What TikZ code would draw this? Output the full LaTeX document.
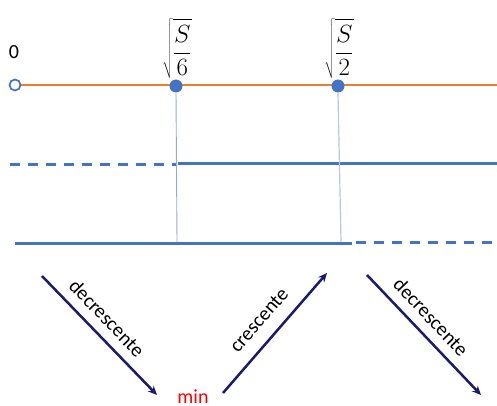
\documentclass[tikz,border=0pt]{standalone}
\usepackage{fontspec}
\setmainfont{Carlito}
\usetikzlibrary{arrows.meta}
\definecolor{axisorange}{HTML}{ED7D31}
\definecolor{signblue}{HTML}{4472C4}
\definecolor{guideblue}{HTML}{8FAADC}
\definecolor{guidelight}{HTML}{B4C7E7}
\definecolor{trendnavy}{HTML}{1A1A73}
\tikzset{
  axisline/.style={draw=axisorange, line width=2.8pt},
  signline/.style={draw=signblue, line width=3pt},
  signdash/.style={signline, dash pattern=on 10pt off 8pt},
  guide/.style={draw=guideblue, line width=0.9pt},
  bigdot/.style={circle, fill=signblue, inner sep=0pt, minimum size=13pt},
  opendot/.style={circle, draw=signblue, fill=white, line width=1.7pt, inner sep=0pt, minimum size=11pt},
  trend/.style={draw=trendnavy, line width=2.5pt, -{Stealth[length=9pt,width=8pt]}},
  trendlabel/.style={font=\fontsize{20}{24}\selectfont, inner sep=0pt},
  pointlabel/.style={font=\fontsize{25}{29}\selectfont, inner sep=0pt},
}
\begin{document}
\begin{tikzpicture}[x=1pt, y=-1pt]
\useasboundingbox (0,0) rectangle (497,406);

% real axis with the critical points
\coordinate (axL) at (15,85);
\coordinate (axR) at (497,85);
\draw[axisline] (axL) -- (axR);
\node[opendot] (zero) at (15,85) {};
\node[bigdot] (p1) at (176,86) {};
\node[bigdot] (p2) at (338,86) {};
\node[font=\fontsize{20}{24}\selectfont] (zlab) at (14,52) {0};
\node[pointlabel, anchor=south] (p1lab) at (177,79) {$\displaystyle\sqrt{\frac{S}{6}}$};
\node[pointlabel, anchor=south] (p2lab) at (339,79) {$\displaystyle\sqrt{\frac{S}{2}}$};

% sign rows
\coordinate (r1a) at (10,164);
\coordinate (r1b) at (177,164);
\coordinate (r1c) at (178,163);
\coordinate (r1d) at (497,163);
\draw[signdash] (r1a) -- (r1b);
\draw[signline] (r1c) -- (r1d);

\coordinate (r2a) at (15,243);
\coordinate (r2b) at (352,243);
\coordinate (r2c) at (356,242);
\coordinate (r2d) at (497,242);
\draw[signline] (r2a) -- (r2b);
\draw[signdash] (r2c) -- (r2d);

% guides from the critical points
\coordinate (g1) at (177,242);
\coordinate (g2) at (341,242);
\draw[guide] (p1.south) -- (g1);
\draw[draw=guidelight, line width=1.2pt] (p2.south) -- (g2);

% monotonicity arrows
\coordinate (a1s) at (42,276);
\coordinate (a1e) at (157,395);
\coordinate (a2s) at (223,393);
\coordinate (a2e) at (327,273);
\coordinate (a3s) at (367,275);
\coordinate (a3e) at (481,395);
\draw[trend] (a1s) -- (a1e);
\draw[trend] (a2s) -- (a2e);
\draw[trend] (a3s) -- (a3e);
\node[trendlabel, rotate=-46] (t1) at (107,318) {decrescente};
\node[trendlabel, rotate=49] (t2) at (259,320) {crescente};
\node[trendlabel, rotate=-46.5] (t3) at (431,317) {decrescente};
\node[font=\fontsize{20}{24}\selectfont, text=red, anchor=base, inner sep=0pt] (minlab) at (193,403) {min};
\end{tikzpicture}
\end{document}
